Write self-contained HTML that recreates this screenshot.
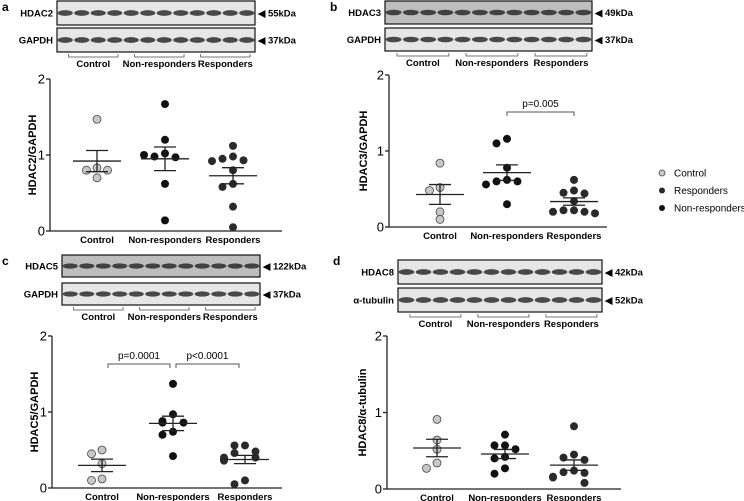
<!DOCTYPE html>
<html><head><meta charset="utf-8"><style>
html,body{margin:0;padding:0;background:#fff;width:744px;height:501px;overflow:hidden}
svg{display:block;font-family:"Liberation Sans",Arial,sans-serif}
</style></head><body>
<svg id="fig" width="744" height="501" viewBox="0 0 744 501" xmlns="http://www.w3.org/2000/svg"></svg>
<script>
const categories = ["Control","Non-responders","Responders"];
const yTicks = [0,1,2];
const aControl = [1.47,0.83,0.80,0.80,0.70];
const aNonResp = [1.67,1.20,1.02,0.98,0.97,1.00,0.62,0.14];
const aResp = [1.12,0.98,0.95,0.93,0.92,0.80,0.62,0.58,0.32,0.05];
const bControl = [0.84,0.52,0.48,0.20,0.10];
const bNonResp = [1.16,1.10,0.78,0.62,0.60,0.60,0.56,0.30];
const bResp = [0.62,0.48,0.45,0.44,0.34,0.22,0.22,0.20,0.20,0.18];
const cControl = [0.50,0.45,0.32,0.12,0.10];
const cNonResp = [1.37,0.97,0.88,0.86,0.86,0.74,0.70,0.42];
const cResp = [0.56,0.56,0.48,0.46,0.40,0.40,0.38,0.36,0.10,0.05];
const dControl = [0.91,0.64,0.52,0.34,0.27];
const dNonResp = [0.71,0.57,0.57,0.52,0.42,0.40,0.27,0.20];
const dResp = [0.82,0.45,0.41,0.38,0.24,0.22,0.21,0.16,0.15,0.08];
const legendLabels = ["Control","Responders","Non-responders"];

const NS="http://www.w3.org/2000/svg";
const svg=document.getElementById('fig');
function el(tag,attrs,parent,text){const e=document.createElementNS(NS,tag);for(const k in attrs)e.setAttribute(k,attrs[k]);if(text!==undefined)e.textContent=text;(parent||svg).appendChild(e);return e;}
const fills=["#c8c8c8","#111","#2a2a2a"];

function blot(g,x,y,w,h,dark,name){
  const r=el('rect',{x:x,y:y,width:w,height:h,fill:dark?'#bdbdbd':'#e6e6e6',stroke:'#111','stroke-width':1.2},g);
  
  
  const lw=w/12;
  for(let i=0;i<12;i++){
    const b=el('ellipse',{cx:x+lw*(i+0.5),cy:y+h/2,rx:lw*0.46,ry:h*0.12,fill:'#222',opacity:0.8},g);
    
    
  }
}

function panel(cfg){
  const g=el('g',{});
  
  
  const L=el('text',{x:cfg.lx,y:cfg.ly,'font-size':12,'font-weight':'bold'},g,cfg.letter);
  
  
  blot(g,cfg.bx,cfg.b1y,cfg.bw,cfg.bh,cfg.dark1,'blot-top');
  blot(g,cfg.bx,cfg.b2y,cfg.bw,cfg.bh,false,'blot-bottom');
  [[cfg.t1,cfg.b1y],[cfg.t2,cfg.b2y]].forEach(([t,yy],i)=>{
    const a=el('text',{x:cfg.bx-4,y:yy+cfg.bh/2+3.5,'font-size':9.5,'font-weight':'bold','text-anchor':'end'},g,t);
    
    
    const k=el('text',{x:cfg.bx+cfg.bw+3,y:yy+cfg.bh/2+3.5,'font-size':9.5,'font-weight':'bold'},g,'◀ '+(i?cfg.k2:cfg.k1));
    
    
  });
  const by=cfg.b2y+cfg.bh+2, lw=cfg.bw/12;
  for(let i=0;i<3;i++){
    const x0=cfg.bx+lw*(i*4+0.7), x1=cfg.bx+lw*(i*4+3.7);
    const br=el('path',{d:`M${x0},${by}V${by+3}H${x1}V${by}`,fill:'none',stroke:'#777','stroke-width':1},g);
    
    
    const t=el('text',{x:(x0+x1)/2,y:by+13,'font-size':9.5,'font-weight':'bold','text-anchor':'middle'},g,categories[i]);
    
    
  }
  const yS=v=>cfg.y0+(cfg.y2-cfg.y0)*v/2;
  const xS=i=>cfg.cx[i];
  const ax=el('path',{d:`M${cfg.ax},${yS(2)}V${yS(0)}H${cfg.axEnd}`,fill:'none',stroke:'#222','stroke-width':1.3},g);
  
  
  yTicks.forEach(v=>{
    const tk=el('line',{x1:cfg.ax-4,x2:cfg.ax,y1:yS(v),y2:yS(v),stroke:'#222','stroke-width':1.3},g);
    
    
    const tl=el('text',{x:cfg.ax-5,y:yS(v)+4.5,'font-size':13,'text-anchor':'end'},g,String(v));
    
    
  });
  const yt=el('text',{x:0,y:0,'font-size':11,'font-weight':'bold','text-anchor':'middle',transform:`translate(${cfg.ytx},${yS(1)}) rotate(-90)`},g,cfg.ytitle);
  
  
  categories.forEach((c,i)=>{
    const t=el('text',{x:xS(i),y:yS(0)+12,'font-size':9.5,'font-weight':'bold','text-anchor':'middle'},g,c);
    
    
  });
  cfg.data.forEach((arr,i)=>{
    const n=arr.length, mean=arr.reduce((a,b)=>a+b,0)/n;
    const sd=Math.sqrt(arr.reduce((a,b)=>a+(b-mean)**2,0)/(n-1)), sem=sd/Math.sqrt(n);
    const placed=[];
    arr.forEach(v=>{
      const near=placed.filter(p=>Math.abs(p.v-v)<0.09);
      let k=near.length, off=0;
      if(k>0){const m=Math.ceil(k/2);off=(k%2?-1:1)*m*10.5;}
      placed.push({v:v});
      const c=el('circle',{cx:xS(i)+off,cy:yS(v),r:4,fill:fills[i],stroke:i===0?'#444':'none','stroke-width':0.8},g);
      
      
    });
    const m=el('line',{x1:xS(i)-24,x2:xS(i)+24,y1:yS(mean),y2:yS(mean),stroke:'#222','stroke-width':1.3},g);
    
    
    const e=el('path',{d:`M${xS(i)-11},${yS(mean+sem)}H${xS(i)+11}M${xS(i)},${yS(mean+sem)}V${yS(mean-sem)}M${xS(i)-11},${yS(mean-sem)}H${xS(i)+11}`,fill:'none',stroke:'#222','stroke-width':1.3},g);
    
    
  });
  (cfg.sig||[]).forEach(s=>{
    const x0=xS(s[0])+(s[3]||0), x1=xS(s[1])+(s[4]||0), yy=cfg.sigY;
    const p=el('path',{d:`M${x0},${yy+4}V${yy}H${x1}V${yy+4}`,fill:'none',stroke:'#555','stroke-width':1},g);
    
    
    const t=el('text',{x:(x0+x1)/2,y:yy-5,'font-size':10,'text-anchor':'middle'},g,s[2]);
    
    
  });
}

panel({letter:'a',lx:2,ly:11,bx:57,b1y:1,b2y:28,bw:198,bh:24,dark1:false,t1:'HDAC2',t2:'GAPDH',k1:'55kDa',k2:'37kDa',
  ax:50,axEnd:282,y0:231,y2:79,cx:[97,165,233],ytx:36,ytitle:'HDAC2/GAPDH',data:[aControl,aNonResp,aResp]});
panel({letter:'b',lx:330,ly:11,bx:385,b1y:1,b2y:28,bw:207,bh:23,dark1:true,t1:'HDAC3',t2:'GAPDH',k1:'49kDa',k2:'37kDa',
  ax:389,axEnd:607,y0:227,y2:75,cx:[440,507,574],ytx:367,ytitle:'HDAC3/GAPDH',data:[bControl,bNonResp,bResp],
  sig:[[1,2,'p=0.005']],sigY:112});
panel({letter:'c',lx:2,ly:265,bx:62,b1y:255,b2y:283,bw:198,bh:22,dark1:true,t1:'HDAC5',t2:'GAPDH',k1:'122kDa',k2:'37kDa',
  ax:52,axEnd:282,y0:488,y2:336,cx:[102,173,245],ytx:38,ytitle:'HDAC5/GAPDH',data:[cControl,cNonResp,cResp],
  sig:[[0,1,'p=0.0001',6,-3],[1,2,'p<0.0001',3,-6]],sigY:364});
panel({letter:'d',lx:333,ly:265,bx:398,b1y:260,b2y:288,bw:204,bh:24,dark1:false,t1:'HDAC8',t2:'α-tubulin',k1:'42kDa',k2:'52kDa',
  ax:387,axEnd:621,y0:489,y2:336,cx:[437,505,574],ytx:366,ytitle:'HDAC8/α-tubulin',data:[dControl,dNonResp,dResp]});

const lg=el('g',{});


legendLabels.forEach((t,i)=>{
  const y=173+i*17.5;
  const c=el('circle',{cx:662,cy:y,r:3,fill:[fills[0],fills[2],fills[1]][i],stroke:i===0?'#444':'none','stroke-width':0.8},lg);
  
  
  const tx=el('text',{x:674,y:y+3.5,'font-size':10},lg,t);
  
  
});
</script>
</body></html>
